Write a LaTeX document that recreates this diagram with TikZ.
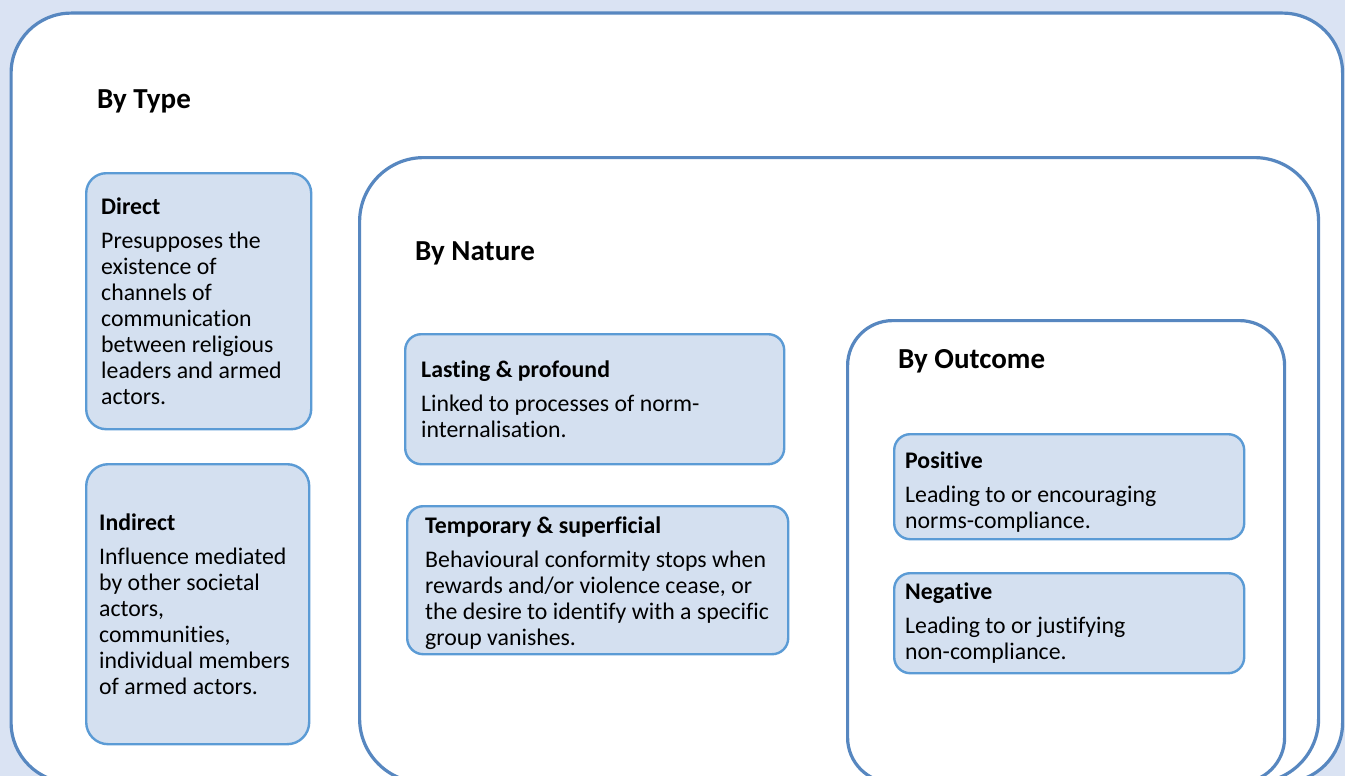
\documentclass[tikz,border=0pt]{standalone}
\usepackage{fontspec}
\setmainfont{Carlito}[Ligatures=NoCommon]
\usepackage{tikz}
\usetikzlibrary{positioning}
\definecolor{InfBackground}{HTML}{DAE3F3}
\definecolor{InfOutline}{HTML}{5787C0}
\definecolor{InfBorder}{HTML}{5B9BD5}
\definecolor{InfFill}{HTML}{D4E0F0}
\tikzset{
    % Large container box
    bigbox/.style={
        draw=InfOutline,
        fill=white,
        line width=3.2pt,
        anchor=north west,
        inner sep=0pt
    },
    % Small text box
    smallbox/.style={
        draw=InfBorder,
        fill=InfFill,
        line width=2.4pt,
        rounded corners=16pt,
        anchor=north west,
        inner sep=0pt
    },
    % Text inside a small box
    boxtext/.style={
        align=left,
        inner sep=0pt,
        anchor=west,
        font={\fontsize{23.8}{26}\selectfont}
    },
    % Heading of a container
    heading/.style={
        anchor=base west,
        inner sep=0pt,
        font={\fontsize{29}{34}\selectfont\bfseries}
    }
}
\begin{document}
\begin{tikzpicture}[x=1pt, y=-1pt]
    \useasboundingbox (0,0) rectangle (1345,776);
    \fill[InfBackground] (0,0) rectangle (1345,776);
    \clip (0,0) rectangle (1345,776);

    % Containers
    \node[bigbox, rounded corners=60pt, minimum width=1331.5pt, minimum height=769.5pt] (typebox) at (9.5,11.5) {};
    \node[bigbox, rounded corners=64pt, minimum width=959pt, minimum height=625pt] (naturebox) at (358,156) {};
    \node[bigbox, rounded corners=45pt, minimum width=437pt, minimum height=462pt] (outcomebox) at (846,319) {};

    % Headings
    \node[heading] (typehead) at (97,109) {By Type};
    \node[heading] (naturehead) at (415,260) {By Nature};
    \node[heading] (outcomehead) at (898,368) {By Outcome};

    % By type
    \node[smallbox, rounded corners=20pt, minimum width=225pt, minimum height=256pt] (direct) at (85,172) {};
    \node[boxtext, right=16pt of direct.west] (directtext) {\textbf{Direct}\\[8pt]Presupposes the\\existence of\\channels of\\communication\\between religious\\leaders and armed\\actors.};
    \node[smallbox, rounded corners=22pt, minimum width=223pt, minimum height=280pt] (indirect) at (85,463) {};
    \node[boxtext, right=14pt of indirect.west] (indirecttext) {\textbf{Indirect}\\[8pt]Influence mediated\\by other societal\\actors,\\communities,\\individual members\\of armed actors.};

    % By nature
    \node[smallbox, minimum width=379pt, minimum height=130pt] (lasting) at (404,333) {};
    \node[boxtext, right=17pt of lasting.west] (lastingtext) {\textbf{Lasting \& profound}\\[8pt]Linked to processes of norm-\\internalisation.};
    \node[smallbox, minimum width=381pt, minimum height=148pt] (temporary) at (406,505) {};
    \node[boxtext, right=19pt of temporary.west, yshift=-3pt] (temporarytext) {\textbf{Temporary \& superficial}\\[8pt]Behavioural conformity stops when\\rewards and/or violence cease, or\\the desire to identify with a specific\\group vanishes.};

    % By outcome
    \node[smallbox, minimum width=350pt, minimum height=105pt] (positive) at (893,433) {};
    \node[boxtext, right=12pt of positive.west, yshift=-5pt] (positivetext) {\textbf{Positive}\\[8pt]Leading to or encouraging\\norms-compliance.};
    \node[smallbox, minimum width=350pt, minimum height=100pt] (negative) at (893,572) {};
    \node[boxtext, right=12pt of negative.west] (negativetext) {\textbf{Negative}\\[8pt]Leading to or justifying\\non-compliance.};
\end{tikzpicture}
\end{document}
